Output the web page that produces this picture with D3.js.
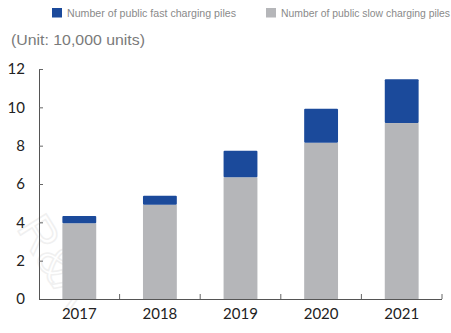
<!DOCTYPE html>
<html>
<head>
<meta charset="utf-8">
<script src="https://cdn.jsdelivr.net/npm/d3@7"></script>
<style>
  html, body { margin: 0; padding: 0; background: #fff; }
  svg { display: block; }
</style>
</head>
<body>
<svg id="chart" width="451" height="333"></svg>
<script>
// Public charging piles, unit: 10,000
const years = ["2017", "2018", "2019", "2020", "2021"];
const slowPiles = [3.95, 4.92, 6.35, 8.15, 9.18];
const fastPiles = [0.38, 0.47, 1.39, 1.78, 2.28];
const yTicks = [0, 2, 4, 6, 8, 10, 12];
const seriesNames = ["Number of public fast charging piles", "Number of public slow charging piles"];
const seriesColors = ["#1b4a9b", "#b5b6b9"];

const svg = d3.select("#chart");
const plotLeft = 39, plotRight = 442, plotTop = 69, plotBottom = 299;

const x = d3.scaleBand().domain(years).range([plotLeft, plotRight]).paddingInner(0.58).paddingOuter(0.29);
const y = d3.scaleLinear().domain([0, 12]).range([plotBottom, plotTop]);

// faint watermark
svg.append("text")
  .attr("transform", "translate(16,228) rotate(58)")
  .attr("font-family", "Liberation Sans, Arial, sans-serif")
  .attr("font-size", 48)
  .attr("fill", "none")
  .attr("stroke", "#f0f0f0")
  .attr("stroke-width", 1.5)
  .text("R&A");

// legend
const legend = svg.append("g").attr("font-family", "Liberation Sans, Arial, sans-serif").attr("font-size", 10.3).attr("fill", "#8a8a8a");
const legendX = [52, 266];
seriesNames.forEach((name, i) => {
  legend.append("rect").attr("x", legendX[i]).attr("y", 8).attr("width", 10).attr("height", 9.5).attr("fill", seriesColors[i]);
  legend.append("text").attr("x", legendX[i] + 15).attr("y", 16.5)
    .attr("textLength", 169).attr("lengthAdjust", "spacingAndGlyphs").text(name);
});

// unit caption
svg.append("text")
  .attr("x", 11).attr("y", 45)
  .attr("font-family", "Liberation Sans, Arial, sans-serif")
  .attr("font-size", 14)
  .attr("fill", "#7a7a7a")
  .attr("textLength", 134).attr("lengthAdjust", "spacingAndGlyphs")
  .text("(Unit: 10,000 units)");

// stacked bars
const stacked = d3.stack().keys(["slow", "fast"])(years.map((yr, i) => ({ year: yr, slow: slowPiles[i], fast: fastPiles[i] })));
const colorByKey = { slow: seriesColors[1], fast: seriesColors[0] };
stacked.forEach(layer => {
  svg.append("g").selectAll("rect").data(layer).join("rect")
    .attr("x", d => x(d.data.year))
    .attr("width", x.bandwidth())
    .attr("y", d => y(d[1]))
    .attr("height", d => y(d[0]) - y(d[1]))
    .attr("rx", layer.key === "fast" ? 1 : 0)
    .attr("fill", colorByKey[layer.key]);
});

// y axis
const yAxis = svg.append("g")
  .attr("transform", `translate(${plotLeft},0)`)
  .call(d3.axisLeft(y).tickValues(yTicks).tickSizeInner(-4).tickSizeOuter(0).tickPadding(14));
yAxis.select(".domain").attr("stroke", "#555");
yAxis.selectAll(".tick line").attr("stroke", "#666");
yAxis.selectAll(".tick text")
  .attr("font-family", "Lato, sans-serif").attr("font-size", 15).attr("fill", "#222");

// x axis
const xAxis = svg.append("g")
  .attr("transform", `translate(0,${plotBottom})`)
  .call(d3.axisBottom(x).tickSize(0).tickPadding(9));
xAxis.select(".domain").attr("d", `M${plotLeft},0.5H${plotRight}`).attr("stroke", "#555");
xAxis.selectAll(".tick text")
  .attr("font-family", "Lato, sans-serif").attr("font-size", 15).attr("fill", "#222");
// category boundary ticks
const bounds = years.map(yr => x(yr) + x.bandwidth() + x.step() * x.paddingOuter());
xAxis.selectAll(".bound").data(bounds).join("line")
  .attr("class", "bound")
  .attr("x1", d => d).attr("x2", d => d)
  .attr("y1", 0).attr("y2", -5)
  .attr("stroke", "#666");
</script>
</body>
</html>
